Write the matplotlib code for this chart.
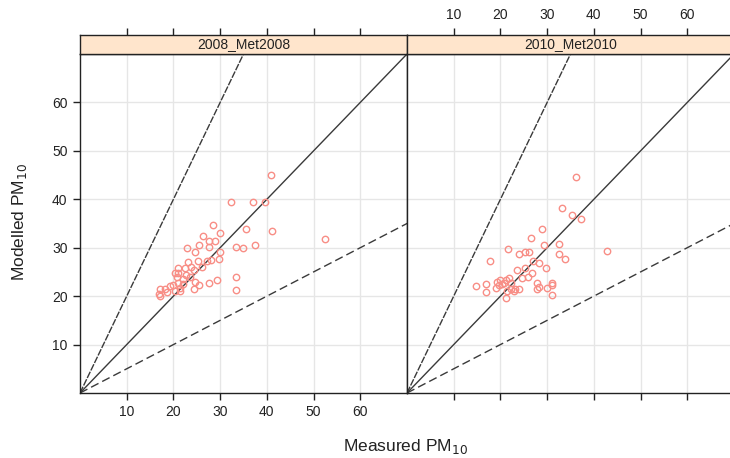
import numpy as np
import matplotlib.pyplot as plt

plt.rcParams['font.family'] = ['Liberation Sans', 'DejaVu Sans']

panels = ['2008_Met2008', '2010_Met2010']

obs_2008 = [40.8, 32.3, 37.1, 39.6, 28.5, 30.0, 35.6, 41.0, 52.4, 26.3, 27.7, 29.0,
            25.5, 27.7, 23.0, 24.7, 30.0, 33.4, 34.8, 37.4, 29.8, 28.1, 27.2, 25.3,
            23.2, 26.1, 23.8, 21.0, 22.5, 24.3, 20.4, 21.0, 22.7, 20.7, 22.0, 23.6,
            24.7, 33.4, 29.4, 27.7, 25.5, 24.5, 33.4, 21.0, 20.0, 19.2, 18.2, 17.2,
            17.2, 17.0, 18.7, 20.4, 21.3, 21.3, 22.0]
mod_2008 = [45.1, 39.5, 39.5, 39.5, 34.6, 33.0, 33.8, 33.5, 31.9, 32.4, 31.4, 31.4,
            30.5, 30.1, 29.9, 29.2, 29.2, 30.2, 30.0, 30.5, 27.7, 27.5, 27.2, 27.2,
            27.0, 26.1, 26.1, 25.9, 25.9, 25.4, 24.8, 24.7, 24.4, 23.9, 23.5, 23.9,
            23.0, 23.9, 23.4, 22.8, 22.2, 21.4, 21.2, 22.7, 22.2, 22.0, 21.5, 21.5,
            20.1, 20.4, 20.8, 21.0, 21.0, 21.7, 22.5]

obs_2010 = [36.1, 33.1, 35.4, 37.3, 28.8, 26.5, 29.4, 32.5, 42.9, 21.7, 25.2, 26.1,
            23.9, 32.5, 33.9, 17.7, 27.0, 28.2, 29.7, 25.2, 23.6, 26.8, 25.8, 24.6,
            21.8, 21.1, 20.0, 19.3, 20.7, 22.2, 19.6, 19.1, 14.7, 16.9, 16.9, 21.1,
            22.2, 23.2, 23.9, 27.9, 28.2, 27.9, 30.0, 31.1, 31.1, 31.1, 22.8, 21.4,
            20.4]
mod_2010 = [44.5, 38.2, 36.8, 35.9, 33.8, 32.1, 30.5, 30.8, 29.4, 29.7, 29.2, 29.2,
            28.6, 28.6, 27.7, 27.2, 27.3, 26.9, 25.9, 25.9, 25.5, 24.8, 24.0, 23.7,
            23.7, 23.4, 23.3, 22.9, 22.8, 22.8, 22.2, 21.6, 22.1, 22.5, 20.9, 19.7,
            21.5, 21.4, 21.5, 22.8, 21.8, 21.5, 21.6, 22.7, 22.2, 20.2, 21.1, 21.1,
            22.5]

ticks = [10, 20, 30, 40, 50, 60]
lim = 70

W, H = 730, 458
fig = plt.figure(figsize=(W / 100, H / 100), dpi=100)

pw = 327 / W
bottom = 1 - 393 / H
ph = 339 / H
sh = 19 / H
lefts = [80 / W, 407 / W]
data = [(obs_2008, mod_2008), (obs_2010, mod_2010)]

line_col = '#3a3a3a'
pt_col = '#F88E86'
grid_col = '#E6E6E6'
txt_col = '#222222'

for i, (name, (x, y)) in enumerate(zip(panels, data)):
    ax = fig.add_axes([lefts[i], bottom, pw, ph])
    ax.set_xlim(0, lim)
    ax.set_ylim(0, lim)
    for t in ticks:
        ax.axvline(t, color=grid_col, lw=1, zorder=0)
        ax.axhline(t, color=grid_col, lw=1, zorder=0)
    xx = np.array([0, lim * 1.1])
    ax.plot(xx, xx, color=line_col, lw=1)
    ax.plot(xx, 2 * xx, color=line_col, lw=1, dashes=(5, 1))
    ax.plot(xx, 0.5 * xx, color=line_col, lw=1, dashes=(6, 3))
    ax.plot(x, y, 'o', mfc='none', mec=pt_col, ms=4.6, mew=1)
    for s in ax.spines.values():
        s.set_color(txt_col)
        s.set_linewidth(1)
    ax.set_xticks(ticks)
    ax.set_yticks(ticks)
    ax.tick_params(direction='out', length=5, width=1, color=txt_col,
                   labelsize=10, labelcolor=txt_col, pad=4)
    if i == 0:
        ax.tick_params(labelbottom=True, left=True, labelleft=True, right=False, top=False)
    else:
        ax.tick_params(labelbottom=False, left=False, labelleft=False, top=False)

    # strip
    sax = fig.add_axes([lefts[i], bottom + ph, pw, sh])
    sax.set_facecolor('#FFE5CC')
    sax.set_xlim(0, lim)
    sax.set_yticks([])
    sax.set_xticks(ticks)
    sax.tick_params(axis='x', bottom=False, labelbottom=False, top=True,
                    labeltop=(i == 1), direction='out', length=5, width=1,
                    color=txt_col, labelsize=10, labelcolor=txt_col, pad=4)
    for s in sax.spines.values():
        s.set_color(txt_col)
        s.set_linewidth(1)
    sax.text(0.5, 0.5, name, transform=sax.transAxes, ha='center', va='center',
             fontsize=10, color=txt_col)

fig.text(405 / W, 1 - 446 / H, 'Measured PM$_{10}$', ha='center', va='center',
         fontsize=12.5, color=txt_col)
fig.text(20 / W, 1 - 222 / H, 'Modelled PM$_{10}$', ha='center', va='center',
         rotation=90, fontsize=12.5, color=txt_col)

fig.savefig('out.png', dpi=100)
